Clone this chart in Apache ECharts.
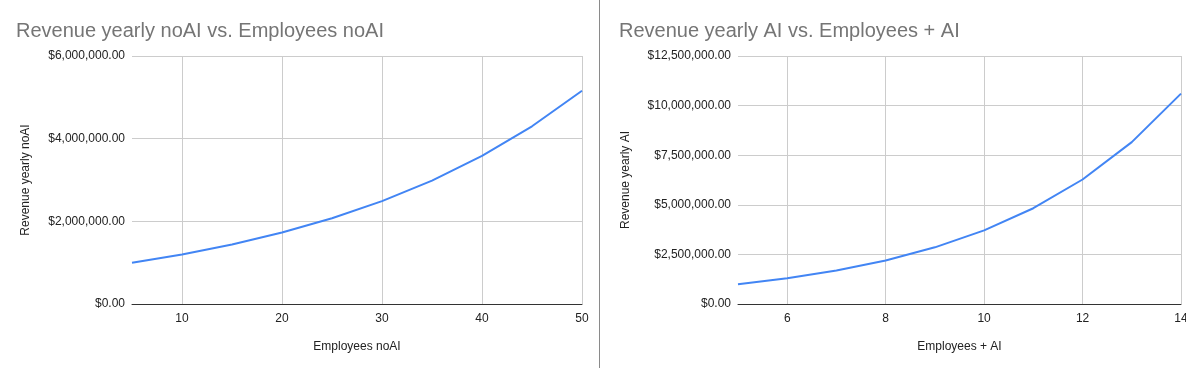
<!DOCTYPE html>
<html>
<head>
<meta charset="utf-8">
<script src="https://cdn.jsdelivr.net/npm/echarts@6/dist/echarts.min.js"></script>
<style>
html,body{margin:0;padding:0;background:#fff;}
#c{width:1186px;height:368px;}
</style>
</head>
<body>
<div id="c"></div>
<script>
// Left chart data
const employeesNoAI = [5, 10, 15, 20, 25, 30, 35, 40, 45, 50];
const revenueNoAI = [1000000, 1200000, 1440000, 1728000, 2073600, 2488320, 2985984, 3583181, 4299817, 5159780];
// Right chart data
const employeesAI = [5, 6, 7, 8, 9, 10, 11, 12, 13, 14];
const revenueAI = [1000000, 1300000, 1690000, 2197000, 2856100, 3712930, 4826809, 6274852, 8157307, 10604499];
// Tick labels
const xTicksLeft = [10, 20, 30, 40, 50];
const xTicksRight = [6, 8, 10, 12, 14];
const yTicksLeft = [0, 2000000, 4000000, 6000000];
const yTicksRight = [0, 2500000, 5000000, 7500000, 10000000, 12500000];

const FONT = '"Liberation Sans", Arial, sans-serif';

function money(v) {
  const s = Math.round(v).toString().replace(/\B(?=(\d{3})+(?!\d))/g, ',');
  return '$' + s + '.00';
}

function xAxis(gridIndex, min, max, ticks, name) {
  return {
    type: 'value', gridIndex, min, max,
    name, nameLocation: 'middle', nameGap: 37,
    nameTextStyle: {color: '#222', fontSize: 12, fontFamily: FONT},
    axisLine: {show: true, lineStyle: {color: '#333', width: 1}},
    axisTick: {show: false, customValues: ticks},
    axisLabel: {customValues: ticks, color: '#222', fontSize: 12, fontFamily: FONT, margin: 9},
    splitLine: {show: true, customValues: ticks, lineStyle: {color: '#ccc', width: 1}}
  };
}
function yAxis(gridIndex, ticks, name, gap) {
  return {
    type: 'value', gridIndex, min: ticks[0], max: ticks[ticks.length - 1],
    interval: ticks[1] - ticks[0],
    name, nameLocation: 'middle', nameGap: gap, nameRotate: 90,
    nameTextStyle: {color: '#222', fontSize: 12, fontFamily: FONT},
    axisLine: {show: false},
    axisTick: {show: false},
    axisLabel: {color: '#222', fontSize: 12, fontFamily: FONT, margin: 7, formatter: money},
    splitLine: {show: true, lineStyle: {color: '#ccc', width: 1}}
  };
}

const chart = echarts.init(document.getElementById('c'), null, {renderer: 'canvas'});
chart.setOption({
  animation: false,
  backgroundColor: '#fff',
  title: [
    {text: 'Revenue yearly noAI vs. Employees noAI', left: 11, top: 16,
     textStyle: {color: '#757575', fontSize: 20, fontWeight: 'normal', fontFamily: FONT}},
    {text: 'Revenue yearly AI vs. Employees + AI', left: 614, top: 16,
     textStyle: {color: '#757575', fontSize: 20, fontWeight: 'normal', fontFamily: FONT}}
  ],
  grid: [
    {left: 132, right: 604, top: 56, bottom: 64, containLabel: false, outerBoundsMode: 'none'},
    {left: 738, right: 5, top: 56, bottom: 64, containLabel: false, outerBoundsMode: 'none'}
  ],
  xAxis: [
    xAxis(0, 5, 50, xTicksLeft, 'Employees noAI'),
    xAxis(1, 5, 14, xTicksRight, 'Employees + AI')
  ],
  yAxis: [
    yAxis(0, yTicksLeft, 'Revenue yearly noAI', 100),
    yAxis(1, yTicksRight, 'Revenue yearly AI', 106)
  ],
  series: [
    {type: 'line', xAxisIndex: 0, yAxisIndex: 0, showSymbol: false, symbol: 'none',
     data: employeesNoAI.map((x, i) => [x, revenueNoAI[i]]),
     lineStyle: {color: '#4285F4', width: 2}, itemStyle: {color: '#4285F4'}},
    {type: 'line', xAxisIndex: 1, yAxisIndex: 1, showSymbol: false, symbol: 'none',
     data: employeesAI.map((x, i) => [x, revenueAI[i]]),
     lineStyle: {color: '#4285F4', width: 2}, itemStyle: {color: '#4285F4'}}
  ],
  graphic: [
    {type: 'line', shape: {x1: 599.5, y1: 0, x2: 599.5, y2: 368},
     style: {stroke: '#8a8a8a', lineWidth: 1}}
  ]
});
</script>
</body>
</html>
